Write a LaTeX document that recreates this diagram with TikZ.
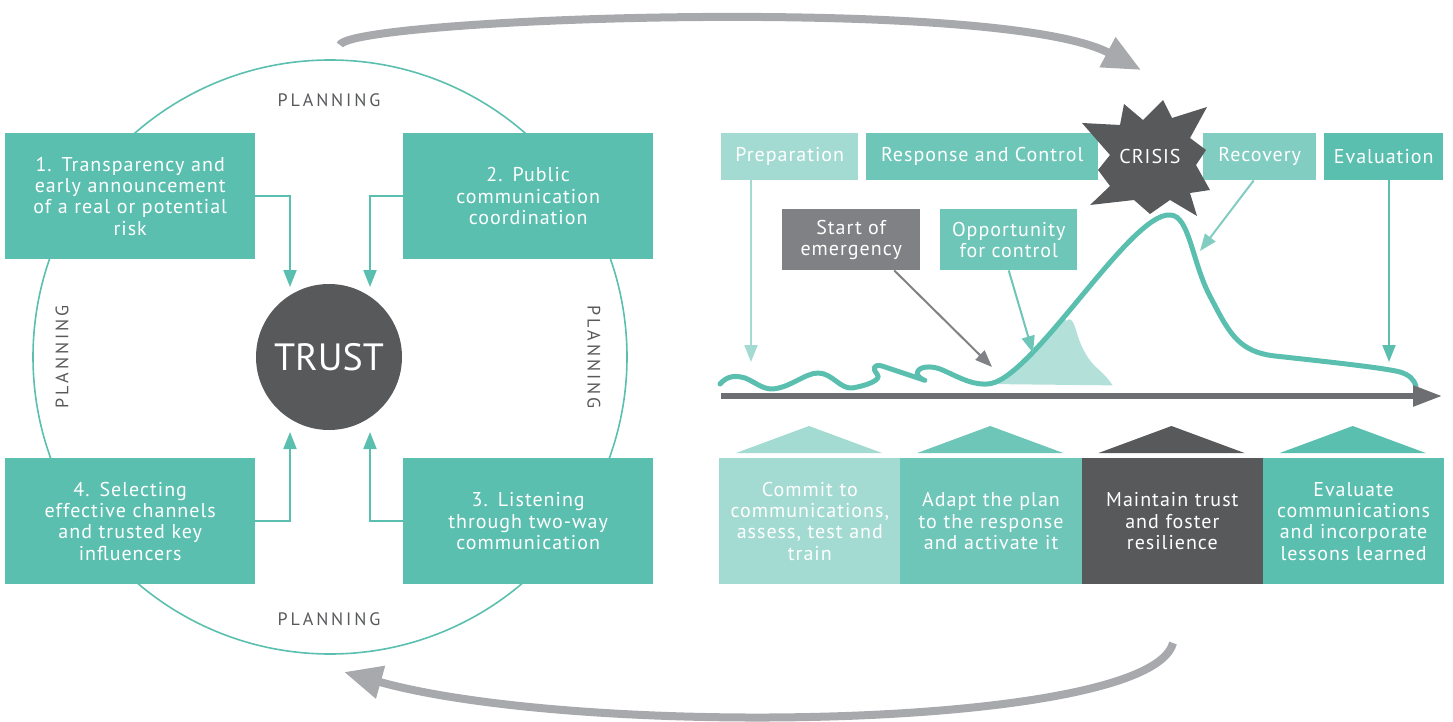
\documentclass[tikz,border=0pt]{standalone}
\usepackage{fontspec}
\setmainfont[LetterSpace=5]{PT Sans}
\newfontfamily\plainfont{PT Sans}
\newfontfamily\trackfont[LetterSpace=16]{PT Sans}
\usetikzlibrary{arrows.meta}

\definecolor{cardteal}{HTML}{5BBFB0}
\definecolor{midteal}{HTML}{6EC6B9}
\definecolor{recteal}{HTML}{81CDC1}
\definecolor{lightteal}{HTML}{A3DBD2}
\definecolor{shadeteal}{HTML}{B3E1D9}
\definecolor{darkgray}{HTML}{58595B}
\definecolor{midgray}{HTML}{808184}
\definecolor{axisgray}{HTML}{6D6E71}
\definecolor{loopgray}{HTML}{A7A9AC}

\newcommand{\bodyfont}{\fontsize{20}{21.3}\selectfont}
\newcommand{\planfont}{\trackfont\fontsize{18}{18}\selectfont}

\begin{document}
\begin{tikzpicture}[x=1pt,y=-1pt,
    every node/.style={inner sep=0pt,text=white},
    card/.style={fill=cardteal,minimum width=250pt,minimum height=126pt,
      text width=244pt,align=center,anchor=north west,font=\bodyfont},
    tab/.style={minimum height=47pt,anchor=north west,font=\bodyfont},
    phase/.style={minimum width=181.25pt,minimum height=126pt,text width=179pt,
      align=center,anchor=north west,font=\bodyfont},
    plan/.style={text=darkgray,font=\planfont},
    link/.style={draw=cardteal,line width=2pt,-{Triangle[length=17pt,width=13pt]}},
    ptr/.style={line width=2pt,-{Triangle[length=17pt,width=13pt]}},
    loopback/.style={draw=loopgray,line width=8pt,-{Triangle[length=38pt,width=32pt]}},
    axis/.style={draw=axisgray,line width=5.5pt,-{Triangle[length=29pt,width=20pt]}}]
\useasboundingbox (0,0) rectangle (1453,722);

% planning cycle
\draw[cardteal,line width=1.6pt] (330,357) circle[radius=297pt];
\node[plan] (plan top) at (329,100) {PLANNING};
\node[plan] (plan bottom) at (329,619) {PLANNING};
\node[plan,rotate=90] (plan left) at (62,357) {PLANNING};
\node[plan,rotate=-90] (plan right) at (594,357) {PLANNING};

\node[card] (transp) at (5,133) {1. Transparency and\\early announcement\\of a real or potential\\risk};
\node[card] (coord) at (403,133) {2. Public\\communication\\coordination};
\node[card] (select) at (5,458) {4. Selecting\\effective channels\\and trusted key\\influencers};
\node[card] (listen) at (403,458) {3. Listening\\through two-way\\communication};
\node[circle,fill=darkgray,minimum size=146pt,font=\plainfont\fontsize{38}{40}\selectfont] (trust) at (329,357) {TRUST};

\coordinate (t1) at (290,287);
\coordinate (t2) at (370,287);
\coordinate (t3) at (370,432);
\coordinate (t4) at (290,432);
\draw[link] (transp.east) -| (t1);
\draw[link] (coord.west) -| (t2);
\draw[link] (listen.west) -| (t3);
\draw[link] (select.east) -| (t4);

% big loop arrows
\coordinate (go from) at (340,45);
\coordinate (go to) at (1141,70);
\coordinate (back from) at (1173,643);
\coordinate (back to) at (344,672);
\draw[loopback] (go from) .. controls (350,18) and (1000,-5) .. (go to);
\draw[loopback] (back from) .. controls (1150,730) and (580,738) .. (back to);

% timeline
\node[tab,fill=lightteal,minimum width=137pt] (prep) at (721,133) {Preparation};
\node[tab,fill=midteal,minimum width=232pt] (resp) at (866,133) {Response and Control};
\node[tab,fill=recteal,minimum width=113pt] (recov) at (1203,133) {Recovery};
\node[tab,fill=cardteal,minimum width=119pt] (evalu) at (1324,133) {Evaluation};
\fill[darkgray] (1082,123) -- (1120,125) -- (1124,104) -- (1143,120) -- (1163,100)
  -- (1172,118) -- (1207,107) -- (1190,138) -- (1206,150) -- (1196,165) -- (1210,190)
  -- (1190,193) -- (1197,216) -- (1170,200) -- (1150,214) -- (1134,200) -- (1090,205)
  -- (1110,186) -- (1098,170) -- (1110,155) -- cycle;
\node[font=\bodyfont] (crisis) at (1150,157) {CRISIS};

\node[tab,fill=midgray,minimum width=138pt,minimum height=61pt,align=center] (start) at (782,209) {Start of\\emergency};
\node[tab,fill=midteal,minimum width=137pt,minimum height=61pt,align=center] (oppor) at (940,209) {Opportunity\\for control};

\begin{scope}
  \clip (987,384) .. controls (1030,384) and (1130,212) .. (1170,215) -- (1170,386) -- cycle;
  \fill[shadeteal] (990,386) -- (1060,300) -- (1066,321) .. controls (1070,317) and (1073,320) .. (1076,330)
    .. controls (1081,348) and (1088,360) .. (1097,368) .. controls (1105,375) and (1110,381) .. (1113,386) -- cycle;
\end{scope}
\draw[cardteal,line width=5pt,line cap=round,line join=round] (720,384) .. controls (727,376) and (735,375) .. (745,378)
  .. controls (755,382) and (762,389) .. (772,389) .. controls (790,388) and (805,373) .. (818,373)
  .. controls (832,373) and (840,389) .. (852,388) .. controls (865,386) and (883,380) .. (877,374)
  .. controls (872,368) and (874,364) .. (882,366) -- (921,379)
  .. controls (933,383) and (913,378) .. (918,371) .. controls (921,366) and (932,366) .. (940,369)
  .. controls (955,375) and (970,385) .. (987,384)
  .. controls (1030,384) and (1130,212) .. (1170,215)
  .. controls (1190,215) and (1192,265) .. (1212,300) .. controls (1230,335) and (1240,352) .. (1275,356)
  .. controls (1330,362) and (1385,368) .. (1400,372) .. controls (1410,375) and (1414,380) .. (1416,386);
\coordinate (ax start) at (721,396);
\coordinate (ax end) at (1442,396);
\draw[axis] (ax start) -- (ax end);

\coordinate (prep tip) at (751,362);
\coordinate (start tip) at (992,367);
\coordinate (oppor tip) at (1033,353);
\coordinate (recov tip) at (1200,251);
\coordinate (evalu tip) at (1389,362);
\draw[ptr,lightteal] (prep.south -| prep tip) -- (prep tip);
\draw[ptr,midgray] ([xshift=43pt]start.south) -- (start tip);
\draw[ptr,midteal] (oppor.south) -- (oppor tip);
\draw[ptr,recteal] ([xshift=-6pt]recov.south) -- (recov tip);
\draw[ptr,cardteal] (evalu.south -| evalu tip) -- (evalu tip);

\foreach \name/\col/\txt [count=\k from 0] in {{commit/lightteal/Commit to\\communications,\\assess, test and\\train},
    {adapt/midteal/Adapt the plan\\to the response\\and activate it},
    {maintain/darkgray/Maintain trust\\and foster\\resilience},
    {evaluate/cardteal/Evaluate\\communications\\and incorporate\\lessons learned}}
{
  \node[phase,fill=\col] (\name) at ({719+\k*181.25},458) {\txt};
  \fill[\col] ({736+\k*181.25},453) -- ++(73,-27) -- ++(73,27) -- cycle;
}
\end{tikzpicture}
\end{document}
